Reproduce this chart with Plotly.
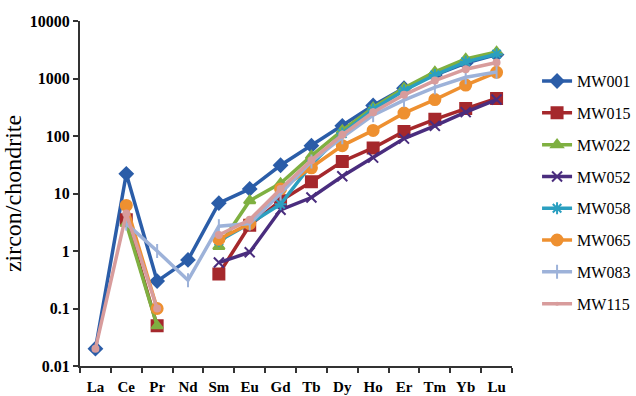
import plotly.graph_objects as go

elements = ["La", "Ce", "Pr", "Nd", "Sm", "Eu", "Gd", "Tb", "Dy", "Ho", "Er", "Tm", "Yb", "Lu"]

mw001 = [0.02, 22, 0.3, 0.7, 6.8, 12, 31, 68, 150, 340, 680, 1150, 1850, 2600]
mw015 = [None, 3.5, 0.05, None, 0.4, 2.8, 7.5, 16, 36, 62, 120, 195, 300, 450]
mw022 = [None, 3.0, 0.05, None, 1.2, 7.5, 15, 45, 125, 310, 680, 1300, 2200, 2900]
mw052 = [None, None, None, None, 0.63, 0.95, 5.2, 8.5, 20, 42, 90, 150, 260, 430]
mw058 = [None, None, None, None, 1.5, 3.0, 6.5, 32, 110, 290, 620, 1150, 1950, 2650]
mw065 = [None, 6.2, 0.1, None, 1.6, 3.0, 12, 28, 68, 125, 250, 430, 770, 1280]
mw083 = [None, 3.0, 1.0, 0.31, 2.7, 3.0, 10, 36, 95, 230, 420, 700, 1050, 1300]
mw115 = [0.02, 4.5, 0.1, None, 1.9, 3.5, 12, 38, 105, 260, 520, 920, 1450, 1900]

series = [
    ("MW001", mw001, "#2B5DA8", "diamond", 10),
    ("MW015", mw015, "#A5282C", "square", 11),
    ("MW022", mw022, "#7FB041", "triangle-up", 10),
    ("MW052", mw052, "#4A2D7E", "x-thin", 10),
    ("MW058", mw058, "#2B9FC0", "asterisk", 10),
    ("MW065", mw065, "#EE9030", "circle", 11),
    ("MW083", mw083, "#9DB2D9", "line-ns", 10),
    ("MW115", mw115, "#D89C9C", "circle", 0),
]

fig = go.Figure()
for name, vals, color, symbol, size in series:
    fig.add_trace(go.Scatter(
        x=elements, y=vals, name=name, mode="lines+markers",
        connectgaps=False, legendgroup=name,
        line=dict(color=color, width=3.5),
        marker=dict(symbol=symbol, size=size, color=color,
                    line=dict(color=color, width=2)),
    ))

serif = "Liberation Serif, Times New Roman, serif"
fig.update_layout(
    width=636, height=396,
    margin=dict(l=80, r=124, t=21, b=30, autoexpand=False),
    paper_bgcolor="white", plot_bgcolor="white",
    font=dict(family=serif, color="black"),
    showlegend=True,
    legend=dict(
        x=1.058, y=0.875, xanchor="left", yanchor="top",
        font=dict(family=serif, size=16, color="black"),
        tracegroupgap=8, bgcolor="rgba(0,0,0,0)",
    ),
    xaxis=dict(
        type="category", categoryorder="array", categoryarray=elements,
        showline=True, linecolor="#333333", linewidth=2,
        ticks="outside", tickson="boundaries", ticklen=5, tickwidth=2, tickcolor="#333333",
        tickangle=0, automargin=False, ticklabelstandoff=6,
        tickfont=dict(family=serif, size=15, color="black", weight="bold"),
        showgrid=False, zeroline=False, range=[-0.5, 13.5],
    ),
    yaxis=dict(
        type="log", range=[-2, 4], automargin=False,
        tickvals=[0.01, 0.1, 1, 10, 100, 1000, 10000],
        ticktext=["0.01", "0.1", "1", "10", "100", "1000", "10000"],
        showline=True, linecolor="#333333", linewidth=2,
        ticks="outside", ticklen=5, tickwidth=2, tickcolor="#333333",
        tickfont=dict(family=serif, size=16, color="black", weight="bold"),
        showgrid=False, zeroline=False,
        title=dict(text="zircon/chondrite", font=dict(family=serif, size=24, color="black"), standoff=4),
    ),
)

fig.write_html("out.html")
